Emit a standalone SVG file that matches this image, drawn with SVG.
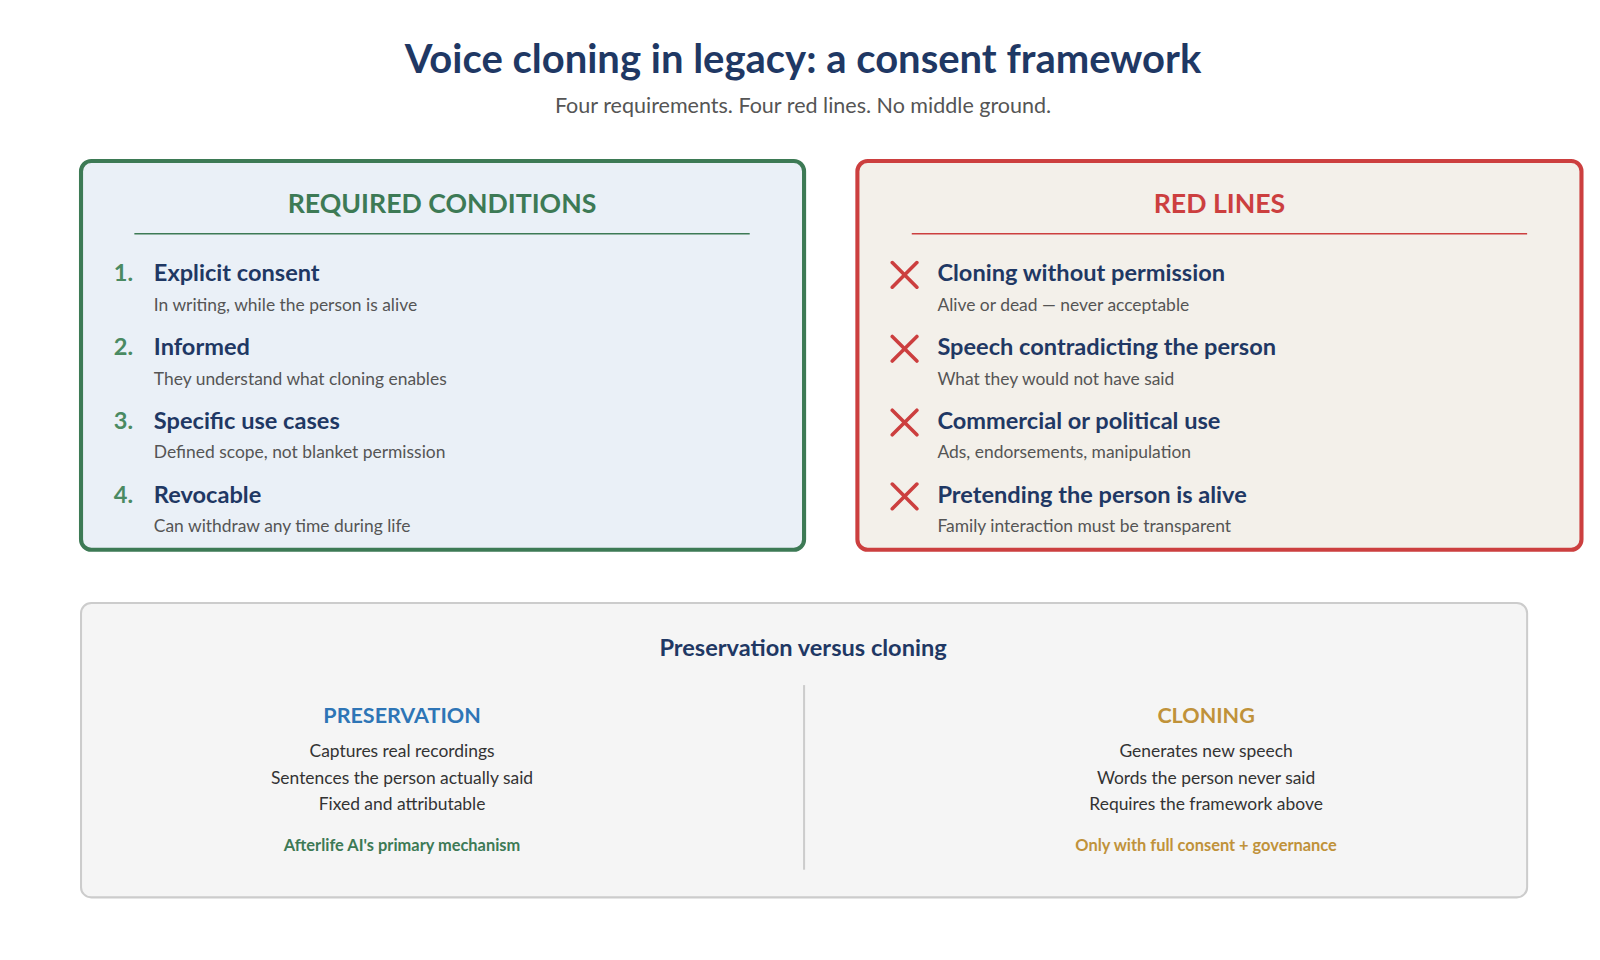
<svg xmlns="http://www.w3.org/2000/svg" width="1600" height="960" viewBox="0 0 1600 960">
<style>
text{font-family:Lato,"Open Sans","Liberation Sans",sans-serif}
.t{font-size:23px;font-weight:bold;fill:#1f3864}
.s{font-size:17px;fill:#555}
.n{font-size:23px;font-weight:bold;fill:#4a8a62}
.x{stroke:#cc3f3f;stroke-width:3.5;stroke-linecap:round}
.b{font-size:17px;fill:#333;text-anchor:middle}
</style>
<rect width="1600" height="960" fill="#fff"/>
<g transform="scale(1.0256)">
<text x="783" y="71" text-anchor="middle" style="font-size:39px;font-weight:bold;fill:#1f3864">Voice cloning in legacy: a consent framework</text>
<text x="783" y="110" text-anchor="middle" style="font-size:21px;fill:#555">Four requirements. Four red lines. No middle ground.</text>
<g id="required">
<rect x="79" y="157" width="705" height="379" rx="10" fill="#eaf0f7" stroke="#3d7a55" stroke-width="4"/>
<text x="431" y="208" text-anchor="middle" style="font-size:26px;font-weight:bold;fill:#3d7a55">REQUIRED CONDITIONS</text>
<line x1="131" y1="228" x2="731" y2="228" stroke="#3d7a55" stroke-width="1.5"/>
<text x="111" y="274" class="n">1.</text><text x="150" y="274" class="t">Explicit consent</text><text x="150" y="303" class="s">In writing, while the person is alive</text>
<text x="111" y="346" class="n">2.</text><text x="150" y="346" class="t">Informed</text><text x="150" y="375" class="s">They understand what cloning enables</text>
<text x="111" y="418" class="n">3.</text><text x="150" y="418" class="t">Specific use cases</text><text x="150" y="447" class="s">Defined scope, not blanket permission</text>
<text x="111" y="490" class="n">4.</text><text x="150" y="490" class="t">Revocable</text><text x="150" y="519" class="s">Can withdraw any time during life</text>
</g>
<g id="redlines">
<rect x="836" y="157" width="706" height="379" rx="10" fill="#f3f0ea" stroke="#cc3f3f" stroke-width="4"/>
<text x="1189" y="208" text-anchor="middle" style="font-size:26px;font-weight:bold;fill:#cc3f3f">RED LINES</text>
<line x1="889" y1="228" x2="1489" y2="228" stroke="#cc3f3f" stroke-width="1.5"/>
<path class="x" d="M870 256l24 24M894 256l-24 24M870 328l24 24M894 328l-24 24M870 400l24 24M894 400l-24 24M870 472l24 24M894 472l-24 24"/>
<text x="914" y="274" class="t">Cloning without permission</text><text x="914" y="303" class="s">Alive or dead — never acceptable</text>
<text x="914" y="346" class="t">Speech contradicting the person</text><text x="914" y="375" class="s">What they would not have said</text>
<text x="914" y="418" class="t">Commercial or political use</text><text x="914" y="447" class="s">Ads, endorsements, manipulation</text>
<text x="914" y="490" class="t">Pretending the person is alive</text><text x="914" y="519" class="s">Family interaction must be transparent</text>
</g>
<g id="comparison">
<rect x="79" y="588" width="1410" height="287" rx="10" fill="#f5f5f5" stroke="#ccc" stroke-width="2"/>
<text x="783" y="640" text-anchor="middle" style="font-size:23px;font-weight:bold;fill:#1f3864">Preservation versus cloning</text>
<line x1="784" y1="668" x2="784" y2="848" stroke="#ccc" stroke-width="2"/>
<text x="392" y="705" text-anchor="middle" style="font-size:21px;font-weight:bold;fill:#2e75b6">PRESERVATION</text>
<text x="392" y="738" class="b">Captures real recordings</text>
<text x="392" y="764" class="b">Sentences the person actually said</text>
<text x="392" y="790" class="b">Fixed and attributable</text>
<text x="392" y="830" text-anchor="middle" style="font-size:16px;font-weight:bold;fill:#3d7a55">Afterlife AI's primary mechanism</text>
<text x="1176" y="705" text-anchor="middle" style="font-size:21px;font-weight:bold;fill:#c0923a">CLONING</text>
<text x="1176" y="738" class="b">Generates new speech</text>
<text x="1176" y="764" class="b">Words the person never said</text>
<text x="1176" y="790" class="b">Requires the framework above</text>
<text x="1176" y="830" text-anchor="middle" style="font-size:16px;font-weight:bold;fill:#c0923a">Only with full consent + governance</text>
</g>
</g>
</svg>
